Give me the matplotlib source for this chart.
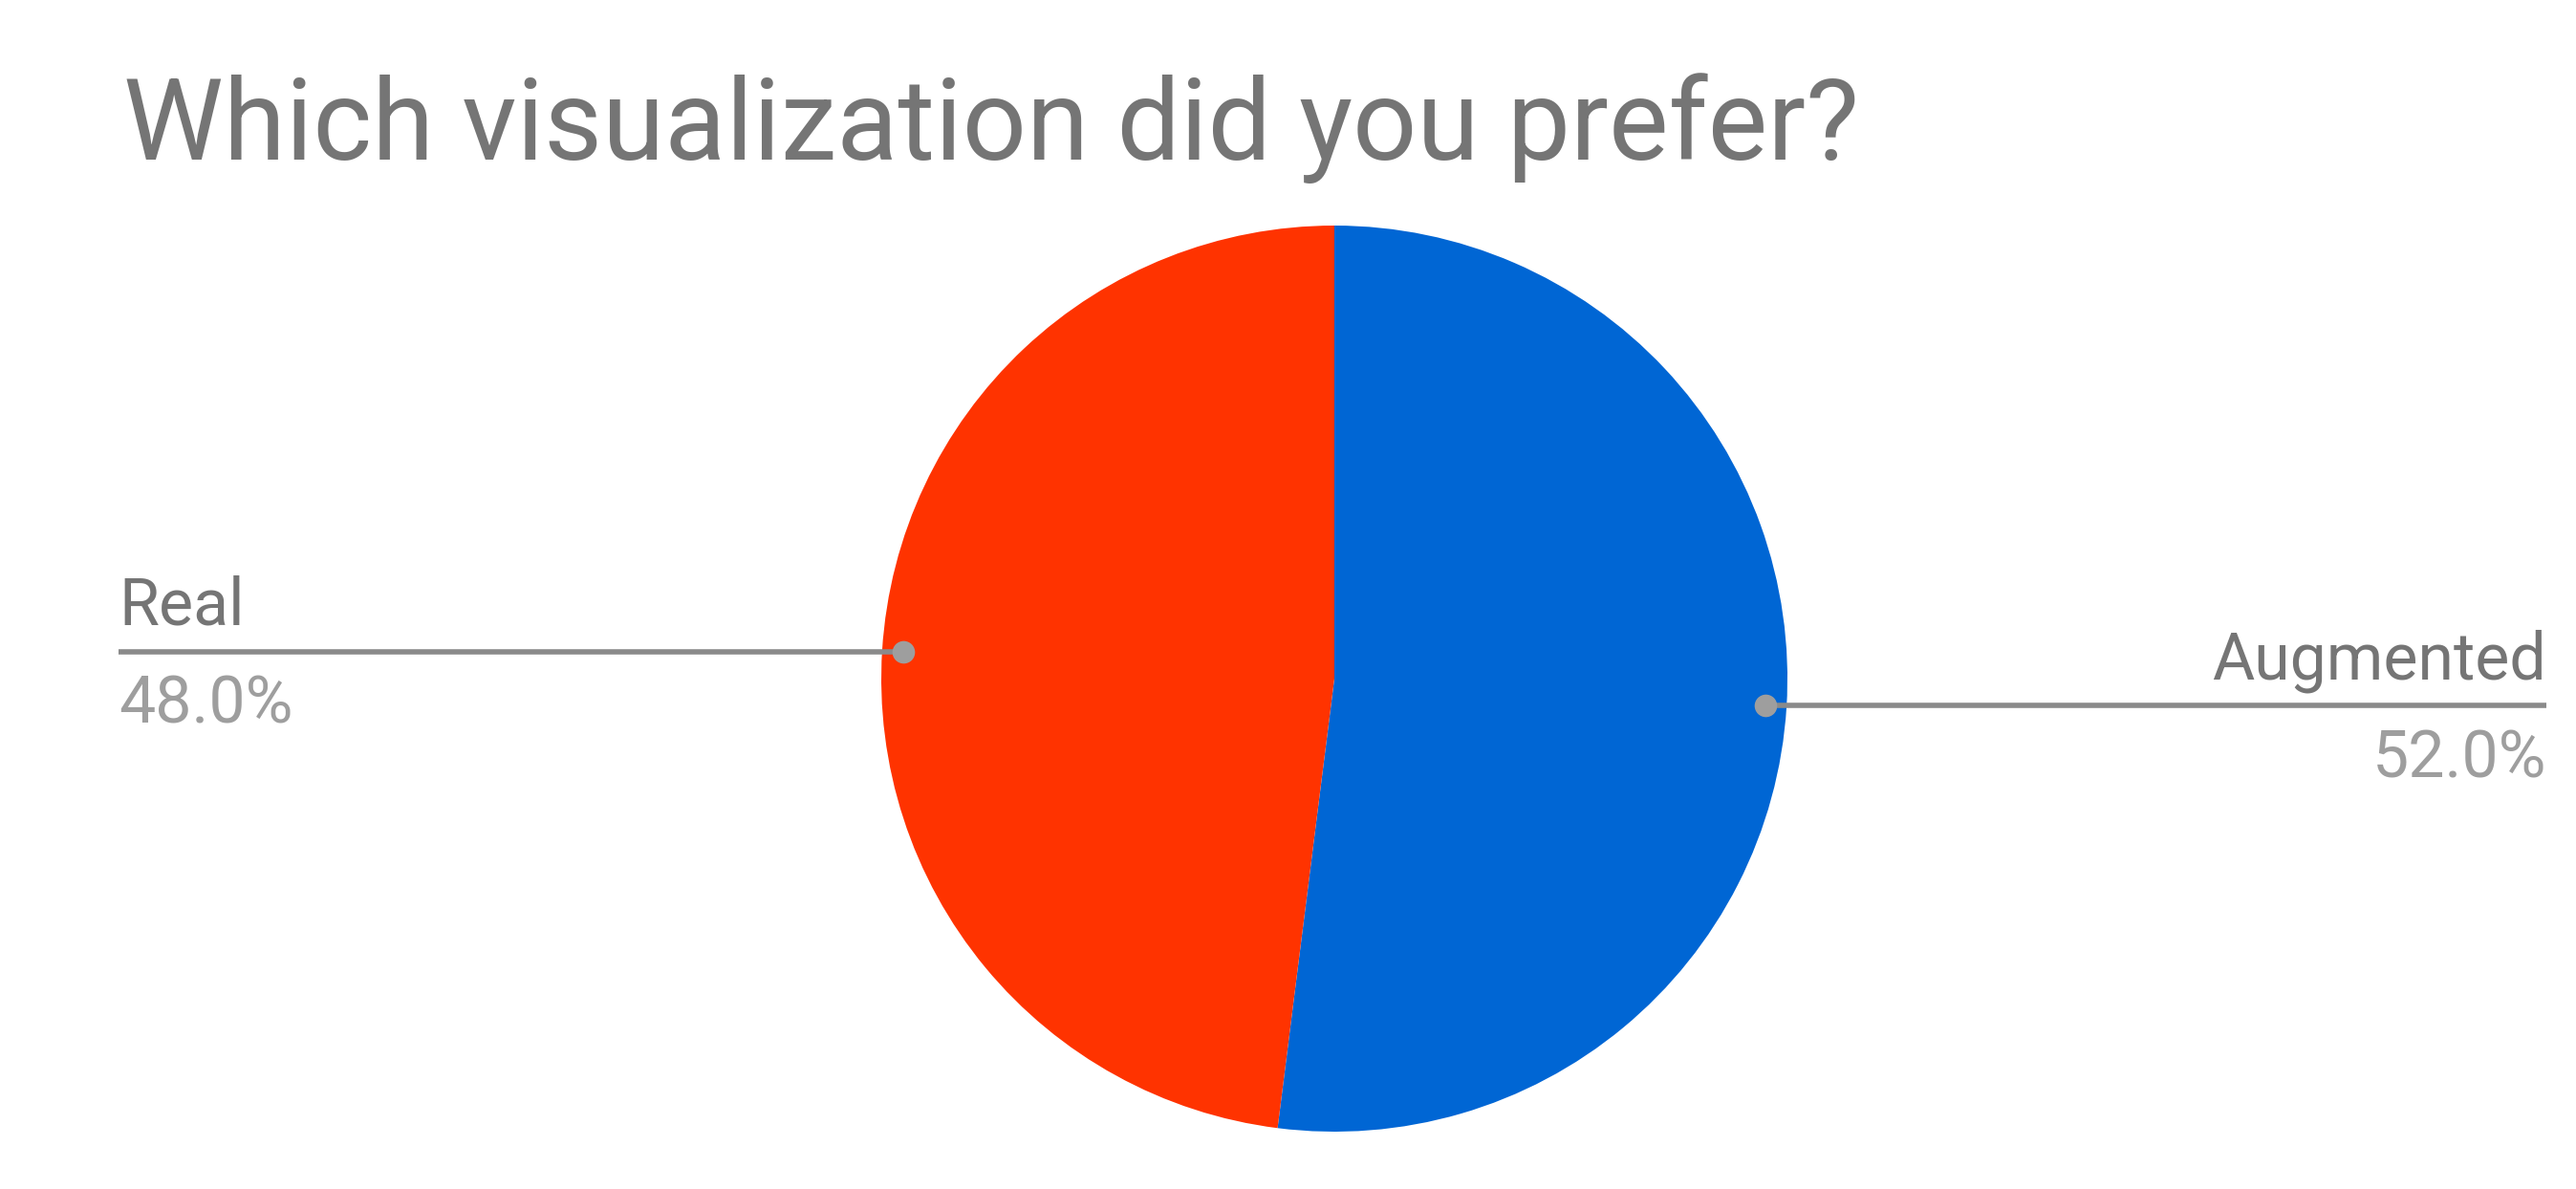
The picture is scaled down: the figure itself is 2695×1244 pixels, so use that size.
import numpy as np
import matplotlib.pyplot as plt

# survey answers
labels = ['Augmented', 'Real']
shares = [52.0, 48.0]
colors = ['#0066d4', '#ff3300']
title = 'Which visualization did you prefer?'

W, H = 2695, 1244
plt.rcParams['font.family'] = ['Roboto', 'DejaVu Sans']

fig = plt.figure(figsize=(W / 100, H / 100), dpi=100)
ax = fig.add_axes([0, 0, 1, 1])

cx, cy, r = 1396, H - 710, 474
wedges, _ = ax.pie(shares, colors=colors, startangle=90, counterclock=False,
                   center=(cx, cy), radius=r, wedgeprops=dict(linewidth=0))
ax.set_xlim(0, W)
ax.set_ylim(0, H)
ax.set_aspect('equal')
ax.axis('off')

ax.text(129, H - 167, title, fontsize=85, color='#757575', ha='left', va='baseline')

for w, lab, val in zip(wedges, labels, shares):
    th = np.deg2rad((w.theta1 + w.theta2) / 2)
    dx, dy = cx + 0.953 * r * np.cos(th), cy + 0.953 * r * np.sin(th)
    if np.cos(th) < 0:
        xe, ha = 124, 'left'
    else:
        xe, ha = 2664, 'right'
    ax.plot([dx, xe], [dy, dy], color='#8a8a8a', lw=4, solid_capstyle='butt', zorder=3)
    ax.plot(dx, dy, 'o', ms=17, color='#9e9e9e', mec='none', zorder=4)
    ax.text(xe, dy + 28, lab, fontsize=49, color='#757575', ha=ha, va='baseline')
    ax.text(xe, dy - 75, f'{val:.1f}%', fontsize=49, color='#9e9e9e', ha=ha, va='baseline')

fig.savefig('out.png', dpi=100, facecolor='white')
